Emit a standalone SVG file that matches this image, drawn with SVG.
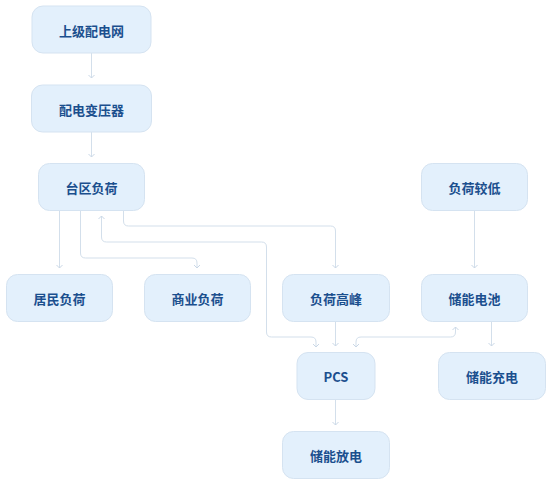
<svg xmlns="http://www.w3.org/2000/svg" width="553" height="486" viewBox="0 0 553 486">
<defs>
<style>
.node rect{fill:#E3F0FC;stroke:#D5E3F1;stroke-width:1}
.node text{font-family:"Noto Sans CJK SC","Noto Sans",sans-serif;font-size:13px;font-weight:bold;fill:#1B4F8E;text-anchor:middle;dominant-baseline:central}
.edge{fill:none;stroke:#D3DFEB;stroke-width:1}
</style>
<marker id="ah" viewBox="0 0 8 8" refX="7" refY="4" markerWidth="8" markerHeight="8" markerUnits="userSpaceOnUse" orient="auto-start-reverse">
<polyline points="4,1 7,4 4,7" fill="none" stroke="#C9D7E6" stroke-width="1"/>
</marker>
</defs>
<rect width="553" height="486" fill="#FFFFFF"/>
<g id="connectors">
<path class="edge" d="M91.5,53 V78" marker-end="url(#ah)"/>
<path class="edge" d="M91.5,132 V157" marker-end="url(#ah)"/>
<path class="edge" d="M59.5,211 V268" marker-end="url(#ah)"/>
<path class="edge" d="M80.5,211 V253 Q80.5,258 85.5,258 H192 Q197,258 197,263 V268" marker-end="url(#ah)"/>
<path class="edge" d="M101.5,216 V237 Q101.5,242 106.5,242 H261.5 Q266.5,242 266.5,247 V332 Q266.5,337 271.5,337 H311 Q316,337 316,342 V347" marker-start="url(#ah)" marker-end="url(#ah)"/>
<path class="edge" d="M123.5,211 V221 Q123.5,226 128.5,226 H330.5 Q335.5,226 335.5,231 V268" marker-end="url(#ah)"/>
<path class="edge" d="M474.5,211 V268" marker-end="url(#ah)"/>
<path class="edge" d="M335.5,321 V346" marker-end="url(#ah)"/>
<path class="edge" d="M455.5,327 V332 Q455.5,337 450.5,337 H361 Q356,337 356,342 V347" marker-start="url(#ah)" marker-end="url(#ah)"/>
<path class="edge" d="M491.5,321 V346" marker-end="url(#ah)"/>
<path class="edge" d="M335.5,399 V425" marker-end="url(#ah)"/>
</g>
<g id="n1" class="node"><rect x="32" y="6" width="119" height="47" rx="11"/><text x="91.5" y="30">上级配电网</text></g>
<g id="n2" class="node"><rect x="31.5" y="85" width="120" height="47" rx="11"/><text x="91.5" y="109">配电变压器</text></g>
<g id="n3" class="node"><rect x="38.5" y="163.5" width="106" height="47" rx="11"/><text x="91.5" y="187">台区负荷</text></g>
<g id="n4" class="node"><rect x="6.5" y="274.5" width="106" height="47" rx="11"/><text x="59.5" y="298">居民负荷</text></g>
<g id="n5" class="node"><rect x="144.5" y="274.5" width="106" height="47" rx="11"/><text x="197.5" y="298">商业负荷</text></g>
<g id="n6" class="node"><rect x="282.5" y="274.5" width="107" height="47" rx="11"/><text x="336" y="298">负荷高峰</text></g>
<g id="n7" class="node"><rect x="421.5" y="163.5" width="106" height="47" rx="11"/><text x="474.5" y="187">负荷较低</text></g>
<g id="n8" class="node"><rect x="421.5" y="274.5" width="106" height="47" rx="11"/><text x="474.5" y="298">储能电池</text></g>
<g id="n9" class="node"><rect x="297" y="352.5" width="78" height="47" rx="11"/><text x="336" y="376">PCS</text></g>
<g id="n10" class="node"><rect x="438.5" y="352.5" width="107" height="47" rx="11"/><text x="492" y="376">储能充电</text></g>
<g id="n11" class="node"><rect x="282.5" y="431.5" width="107" height="47" rx="11"/><text x="336" y="455">储能放电</text></g>
</svg>
